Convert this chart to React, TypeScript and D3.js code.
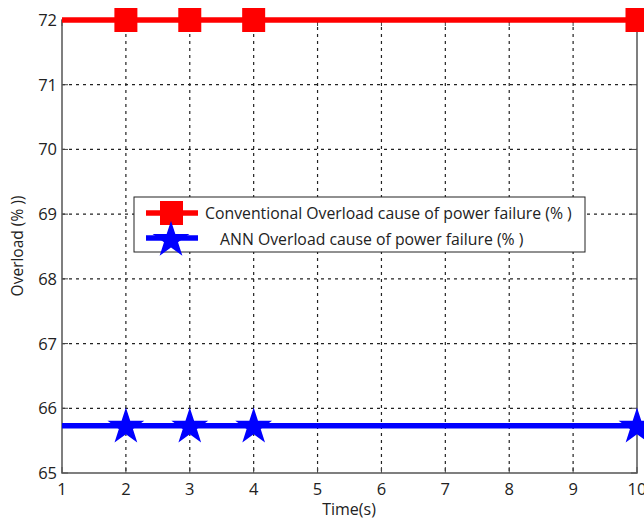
import React from "react";
import * as d3 from "d3";

const times = [1, 2, 3, 4, 5, 6, 7, 8, 9, 10];
const conventional = [72, 72, 72, 72, 72, 72, 72, 72, 72, 72];
const ann = [65.73, 65.73, 65.73, 65.73, 65.73, 65.73, 65.73, 65.73, 65.73, 65.73];
const markerTimes = [2, 3, 4, 10];
const xTicks = [1, 2, 3, 4, 5, 6, 7, 8, 9, 10];
const yTicks = [65, 66, 67, 68, 69, 70, 71, 72];
const seriesNames = [
  "Conventional Overload cause of power failure (% )",
  "ANN Overload cause of power failure (% )",
];

const W = 644;
const H = 521;
const L = 62, R = 637, T = 20, B = 473;

export default function App() {
  const x = d3.scaleLinear().domain([1, 10]).range([L, R]);
  const y = d3.scaleLinear().domain([65, 72]).range([B, T]);
  const line = d3.line<number>().x((_, i) => x(times[i])).y((d) => y(d));
  const star = d3.symbol().type(d3.symbolStar).size(420)();
  const font = "'Open Sans', sans-serif";
  const idx = (t: number) => times.indexOf(t);

  return (
    <svg width={W} height={H} style={{ position: "absolute", left: 0, top: 0, background: "#fff" }}>
      <rect x={0} y={0} width={W} height={H} fill="#fff" />
      {/* grid */}
      {xTicks.slice(1, -1).map((t) => (
        <line key={"gx" + t} x1={x(t)} x2={x(t)} y1={T} y2={B} stroke="#222" strokeWidth={1.2} strokeDasharray="3,4" />
      ))}
      {yTicks.slice(1, -1).map((t) => (
        <line key={"gy" + t} x1={L} x2={R} y1={y(t)} y2={y(t)} stroke="#222" strokeWidth={1.2} strokeDasharray="3,4" />
      ))}
      {/* ticks */}
      {xTicks.map((t) => (
        <g key={"tx" + t}>
          <line x1={x(t)} x2={x(t)} y1={B} y2={B - 6} stroke="#444" strokeWidth={1} />
          <line x1={x(t)} x2={x(t)} y1={T} y2={T + 6} stroke="#444" strokeWidth={1} />
          <text x={x(t)} y={B + 22} textAnchor="middle" fontFamily={font} fontSize={16.5} fill="#222">{t}</text>
        </g>
      ))}
      {yTicks.map((t) => (
        <g key={"ty" + t}>
          <line x1={L} x2={L + 6} y1={y(t)} y2={y(t)} stroke="#444" strokeWidth={1} />
          <line x1={R} x2={R - 6} y1={y(t)} y2={y(t)} stroke="#444" strokeWidth={1} />
          <text x={L - 5} y={y(t) + 6} textAnchor="end" fontFamily={font} fontSize={16.5} fill="#222">{t}</text>
        </g>
      ))}
      {/* axes box */}
      <rect x={L} y={T} width={R - L} height={B - T} fill="none" stroke="#555" strokeWidth={1.5} />
      {/* series */}
      <path d={line(conventional) || ""} fill="none" stroke="#ff0000" strokeWidth={5.5} />
      <path d={line(ann) || ""} fill="none" stroke="#0000ff" strokeWidth={5.5} />
      {markerTimes.map((t) => (
        <rect key={"sq" + t} x={x(t) - 11.5} y={y(conventional[idx(t)]) - 12} width={23} height={24} fill="#ff0000" />
      ))}
      {markerTimes.map((t) => (
        <path key={"st" + t} d={star || ""} transform={`translate(${x(t)},${y(ann[idx(t)]) + 1})`} fill="#0000ff" />
      ))}
      {/* legend */}
      <g>
        <rect x={134} y={197} width={451} height={55} fill="#fff" stroke="#222" strokeWidth={1} />
        <line x1={146} x2={198} y1={213} y2={213} stroke="#ff0000" strokeWidth={5.5} />
        <rect x={160} y={201} width={23} height={24} fill="#ff0000" />
        <line x1={146} x2={198} y1={238} y2={238} stroke="#0000ff" strokeWidth={5.5} />
        <path d={star || ""} transform="translate(171,240)" fill="#0000ff" />
        <text x={205} y={219} fontFamily={font} fontSize={15.8} fill="#222">{seriesNames[0]}</text>
        <text x={220} y={245} fontFamily={font} fontSize={15.8} fill="#222">{seriesNames[1]}</text>
      </g>
      {/* axis labels */}
      <text x={349} y={515} textAnchor="middle" fontFamily={font} fontSize={16} fill="#222">Time(s)</text>
      <text transform="translate(23,246) rotate(-90)" textAnchor="middle" fontFamily={font} fontSize={15.5} fill="#222">Overload (% ))</text>
    </svg>
  );
}
